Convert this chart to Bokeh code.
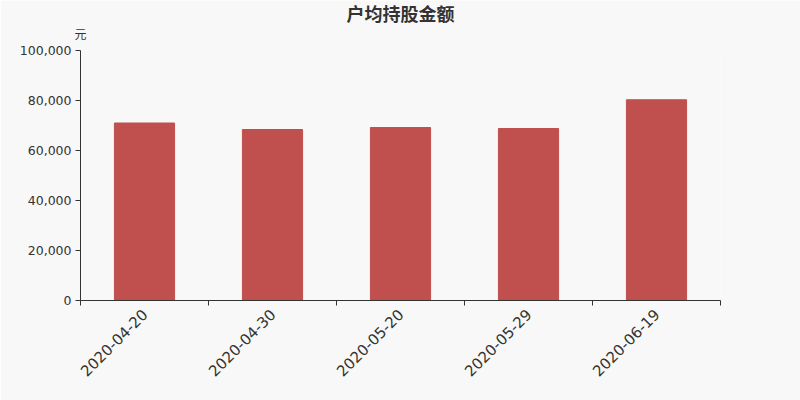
from math import pi

from bokeh.embed import file_html
from bokeh.models import FixedTicker, LinearAxis, NumeralTickFormatter, Range1d
from bokeh.plotting import figure
from bokeh.resources import INLINE

# data
dates = ["2020-04-20", "2020-04-30", "2020-05-20", "2020-05-29", "2020-06-19"]
amounts = [71000, 68400, 69200, 68800, 80300]
y_ticks = [0, 20000, 40000, 60000, 80000, 100000]
title = "户均持股金额"
unit = "元"

BG = "#f8f8f8"
BAR = "#c0504d"
INK = "#333333"
CJK = "DejaVu Sans, Noto Sans CJK SC"

centers = [i + 0.5 for i in range(len(dates))]

p = figure(
    width=800, height=400,
    x_range=Range1d(0, len(dates)),
    y_range=Range1d(0, 100000),
    output_backend="svg",
    toolbar_location=None,
    min_border_left=80, min_border_right=80,
    min_border_top=50, min_border_bottom=100)

p.background_fill_color = BG
p.border_fill_color = BG
p.outline_line_color = None
p.grid.visible = False

xa = p.below[0]
ya = p.left[0]

# top axis carries only the unit (over the y axis) and the chart title
top = LinearAxis(
    ticker=FixedTicker(ticks=[0]),
    major_label_overrides={0: unit},
    axis_line_color=None, major_tick_line_color=None,
    minor_tick_line_color=None,
    major_tick_out=0, major_tick_in=0,
    minor_tick_out=0, minor_tick_in=0,
    major_label_standoff=9,
    major_label_text_font=CJK,
    major_label_text_font_size="12px",
    major_label_text_color=INK,
    axis_label=title, axis_label_standoff=0,
    axis_label_text_font=CJK,
    axis_label_text_font_size="18px",
    axis_label_text_font_style="bold",
    axis_label_text_color=INK)
p.add_layout(top, "above")

p.vbar(x=centers, top=amounts, width=0.47, color=BAR)

# x axis: labels at centres, ticks at category boundaries
xa.ticker = FixedTicker(
    ticks=centers, minor_ticks=list(range(len(dates) + 1)))
xa.major_label_overrides = {c: d for c, d in zip(centers, dates)}
xa.major_label_orientation = pi / 4
xa.major_label_text_font = "DejaVu Sans"
xa.major_label_text_font_size = "15px"
xa.major_label_text_color = INK
xa.major_tick_out = 0
xa.major_tick_in = 0
xa.minor_tick_out = 5
xa.minor_tick_in = 0
xa.minor_tick_line_color = INK
xa.axis_line_color = INK
xa.major_label_standoff = 6

ya.ticker = FixedTicker(ticks=y_ticks)
ya.formatter = NumeralTickFormatter(format="0,0")
ya.major_label_text_font = "DejaVu Sans"
ya.major_label_text_font_size = "12.5px"
ya.major_label_text_color = INK
ya.major_tick_out = 5
ya.major_tick_in = 0
ya.minor_tick_out = 0
ya.minor_tick_in = 0
ya.major_tick_line_color = INK
ya.axis_line_color = INK
ya.major_label_standoff = 4

open("out.html", "w").write(file_html(p, INLINE))
